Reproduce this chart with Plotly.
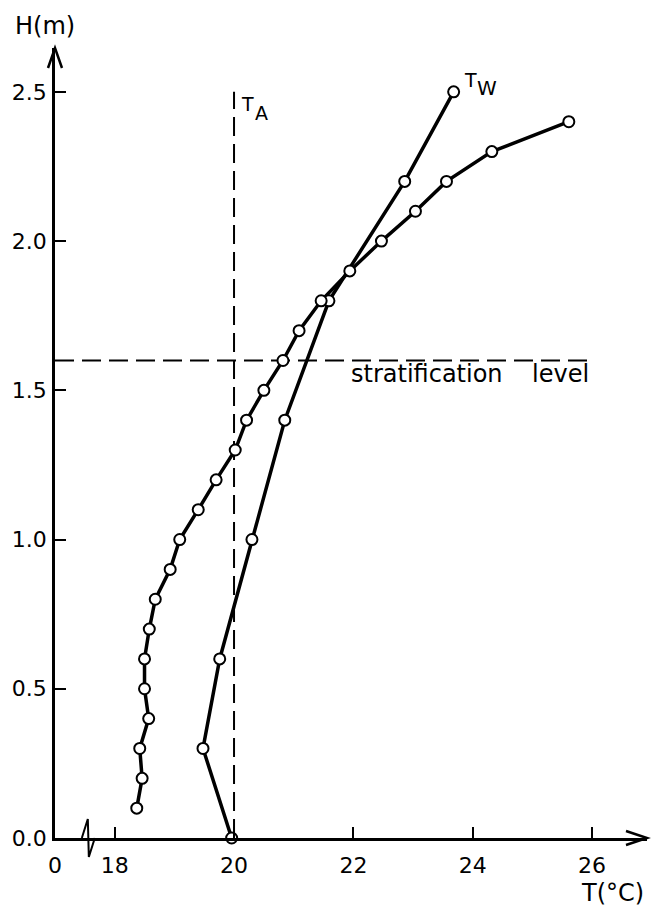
import plotly.graph_objects as go

FONT = "DejaVu Sans"
INK = "black"

# profile with 0.1 m spacing (unlabelled curve)
H_PROFILE = [0.1, 0.2, 0.3, 0.4, 0.5, 0.6, 0.7, 0.8, 0.9, 1.0, 1.1, 1.2,
             1.3, 1.4, 1.5, 1.6, 1.7, 1.8, 1.9, 2.0, 2.1, 2.2, 2.3, 2.4]
T_PROFILE = [18.37, 18.46, 18.42, 18.57, 18.50, 18.50, 18.58, 18.68, 18.93, 19.09, 19.40, 19.70,
             20.02, 20.21, 20.50, 20.82, 21.09, 21.46, 21.94, 22.47, 23.04, 23.56, 24.32, 25.61]

# water temperature T_W
H_WATER = [0.0, 0.3, 0.6, 1.0, 1.4, 1.8, 2.2, 2.5]
T_WATER = [19.96, 19.48, 19.76, 20.30, 20.85, 21.59, 22.86, 23.68]

# air temperature T_A and stratification level
T_AIR = 20.0
H_AIR_TOP = 2.5
H_STRAT = 1.6
T_STRAT_END = 26.0

X_TICKS = [17, 18, 20, 22, 24, 26]
X_TICK_TEXT = ["0", "18", "20", "22", "24", "26"]
Y_TICKS = [0.0, 0.5, 1.0, 1.5, 2.0, 2.5]
Y_TICK_TEXT = ["0.0", "0.5", "1.0", "1.5", "2.0", "2.5"]

X_RANGE = [17.0, 26.92]
Y_RANGE = [0.0, 2.647]
T_BREAK = 17.55

fig = go.Figure()

# reference lines
fig.add_trace(go.Scatter(
    x=[T_AIR, T_AIR], y=[0, H_AIR_TOP], mode="lines",
    line=dict(color=INK, width=2, dash="19px,8px"), cliponaxis=False,
))
fig.add_trace(go.Scatter(
    x=[X_RANGE[0], T_STRAT_END], y=[H_STRAT, H_STRAT], mode="lines",
    line=dict(color=INK, width=2, dash="19px,8px"), cliponaxis=False,
))

# profile lines first, then the circles on top
for xs, ys in [(T_WATER, H_WATER), (T_PROFILE, H_PROFILE)]:
    fig.add_trace(go.Scatter(
        x=xs, y=ys, mode="lines", line=dict(color=INK, width=3.5), cliponaxis=False,
    ))
for xs, ys in [(T_WATER, H_WATER), (T_PROFILE, H_PROFILE)]:
    fig.add_trace(go.Scatter(
        x=xs, y=ys, mode="markers", cliponaxis=False,
        marker=dict(size=11, color="white", line=dict(color=INK, width=2)),
    ))

# axis arrowheads and axis break, in pixel offsets (paper refs so nothing is clipped)
deco = dict(type="path", line=dict(color=INK, width=2.5), xsizemode="pixel", ysizemode="pixel")
fig.add_shape(path="M -21,7 L 0,0 L -21,-7", xref="paper", yref="paper",
              xanchor=1, yanchor=0, **deco)
fig.add_shape(path="M -7,-20 L 0,0 L 7,-20", xref="paper", yref="paper",
              xanchor=0, yanchor=1, **deco)
fig.add_shape(path="M -6,0 L 0,19 L 1,-19 L 7,0", xref="x", yref="paper",
              xanchor=T_BREAK, yanchor=0, **{**deco, "line": dict(color=INK, width=2)})

font = dict(family=FONT, color=INK)
ann = [
    dict(text="H(m)", x=X_RANGE[0], y=Y_RANGE[1], xshift=-10, yshift=22, size=24),
    dict(text="T(°C)", x=26.35, y=0, yshift=-55, size=24),
    dict(text="T", x=T_AIR, y=H_AIR_TOP, xshift=13, yshift=-12, size=19),
    dict(text="A", x=T_AIR, y=H_AIR_TOP, xshift=27, yshift=-21, size=19),
    dict(text="T", x=T_WATER[-1], y=H_WATER[-1], xshift=17, yshift=12, size=19),
    dict(text="W", x=T_WATER[-1], y=H_WATER[-1], xshift=33, yshift=4, size=20),
    dict(text="stratification", x=21.92, y=H_STRAT, xanchor="left", yshift=-14, size=24),
    dict(text="level", x=24.96, y=H_STRAT, xanchor="left", yshift=-14, size=24),
]
for a in ann:
    size = a.pop("size")
    fig.add_annotation(showarrow=False, font=dict(font, size=size),
                       xanchor=a.pop("xanchor", "center"), yanchor="middle", **a)

axis_common = dict(
    showgrid=False, zeroline=False, showline=True, linecolor=INK, linewidth=2.5,
    ticks="inside", ticklen=11, tickwidth=2, tickcolor=INK,
    tickfont=dict(family=FONT, size=22, color=INK),
)
fig.update_xaxes(range=X_RANGE, tickvals=X_TICKS, ticktext=X_TICK_TEXT,
                 ticklabelstandoff=6, **axis_common)
fig.update_yaxes(range=Y_RANGE, tickvals=Y_TICKS, ticktext=Y_TICK_TEXT,
                 ticklabelstandoff=1, **axis_common)

fig.update_layout(
    width=651, height=908,
    margin=dict(l=55, r=4, t=48, b=70),
    plot_bgcolor="white", paper_bgcolor="white",
    showlegend=False,
)

# drop the browser's default 8px body margin so the figure sits at the page corner
fig.write_html("out.html", config={"displayModeBar": False},
               post_script="document.body.style.margin = '0';")
